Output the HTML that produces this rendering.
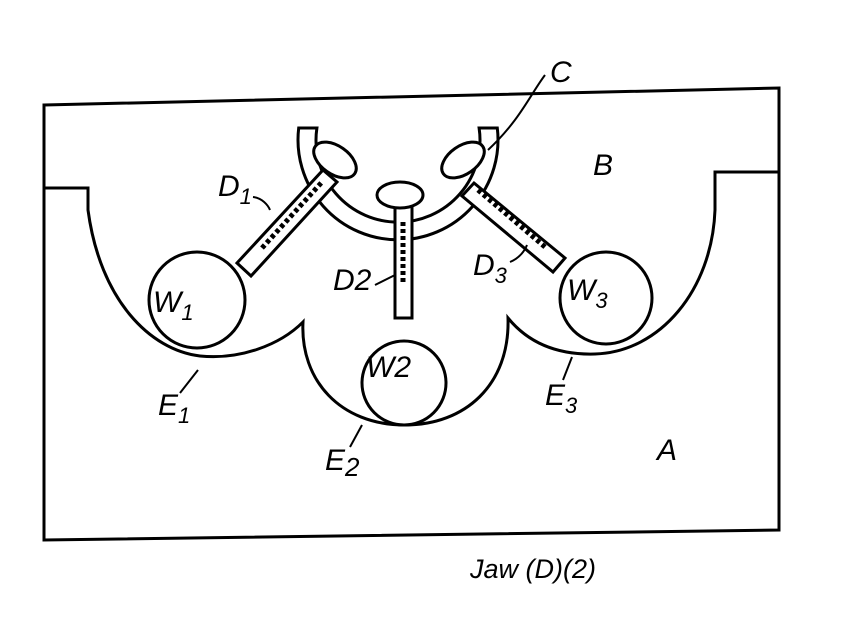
<!DOCTYPE html>
<html><head><style>body{margin:0;background:#fff}svg{display:block}text{font-family:"Liberation Sans",sans-serif;font-style:italic;fill:#000}</style></head>
<body>
<svg width="848" height="624" viewBox="0 0 848 624" xmlns="http://www.w3.org/2000/svg">
<g fill="none" stroke="#000" stroke-width="3">
<path d="M44,105 L779,88 L779,530 L44,540 Z"/>
<path d="M44,188 L88,188 L88,210 C100,300 150,350 200,356 C240,360 280,345 303,322 C300,380 340,425 405,425 C465,425 510,385 508,318 C530,345 560,355 595,354 C660,352 712,290 715,210 L715,172 L779,172"/>
<circle cx="197" cy="300" r="48"/>
<circle cx="404" cy="383" r="42"/>
<circle cx="606" cy="298" r="46"/>
<path d="M298.7,128 A100,100 0 1 0 497.3,128 L479.1,128 A82,82 0 1 1 316.9,128 Z" fill="#fff"/>
<path d="M237,263 L323,170 L337,182 L251,276 Z" fill="#fff"/>
<path d="M474,183 L565,258 L553,272 L462,196 Z" fill="#fff"/>
<rect x="395" y="205" width="17" height="113" fill="#fff"/>
<ellipse cx="335" cy="160" rx="24" ry="14" transform="rotate(35 335 160)" fill="#fff"/>
<ellipse cx="400" cy="195" rx="23" ry="13" fill="#fff"/>
<ellipse cx="463" cy="160" rx="24" ry="14" transform="rotate(-35 463 160)" fill="#fff"/>
<path d="M488,150 C520,120 530,95 545,75" stroke-width="2"/>
<path d="M253,197 C262,198 268,205 270,210" stroke-width="2"/>
<path d="M375,285 L395,275" stroke-width="2"/>
<path d="M510,262 C520,258 525,250 527,245" stroke-width="2"/>
<path d="M180,393 L198,370" stroke-width="2"/>
<path d="M350,447 L362,425" stroke-width="2"/>
<path d="M563,380 L572,357" stroke-width="2"/>
</g>
<g stroke="#000" stroke-width="5" stroke-dasharray="4 3">
<line x1="262" y1="248" x2="322" y2="182"/>
<line x1="403" y1="222" x2="403" y2="285"/>
<line x1="478" y1="190" x2="545" y2="247"/>
</g>
<g font-size="30">
<text x="550" y="82">C</text>
<text x="593" y="175">B</text>
<text x="657" y="460">A</text>
<text x="218" y="196">D<tspan font-size="22" dy="8">1</tspan></text>
<text x="333" y="290">D2</text>
<text x="473" y="275">D<tspan font-size="22" dy="8">3</tspan></text>
<text x="153" y="312">W<tspan font-size="22" dy="8">1</tspan></text>
<text x="366" y="377">W2</text>
<text x="567" y="300">W<tspan font-size="22" dy="8">3</tspan></text>
<text x="158" y="415">E<tspan font-size="22" dy="8">1</tspan></text>
<text x="325" y="470">E<tspan font-size="26" dy="6">2</tspan></text>
<text x="545" y="405">E<tspan font-size="22" dy="8">3</tspan></text>
<text x="470" y="578" font-size="27">Jaw (D)(2)</text>
</g>
</svg>
</body></html>
